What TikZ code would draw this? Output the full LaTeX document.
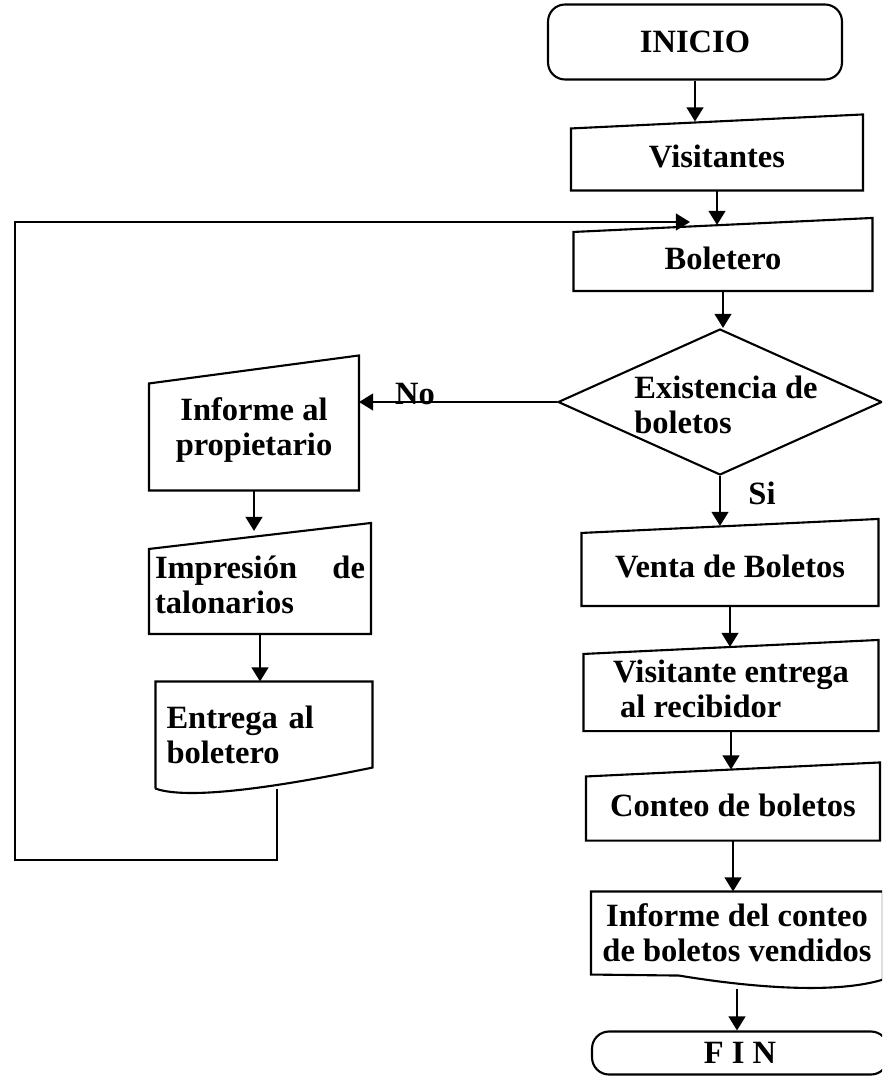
\documentclass[tikz,border=0pt]{standalone}
\usepackage{fontspec}
\setmainfont{Liberation Serif}
\usetikzlibrary{shapes.geometric, arrows.meta, calc}

% box with a sloped top edge
\newcommand{\slantbox}[2]{%
  \draw (#1.south west) -- (#1.south east) -- ($(#1.north east)+(0,-#2)$)
        -- ($(#1.north west)+(0,#2)$) -- cycle;}

\tikzset{
  txt/.style={font=\bfseries\fontsize{18.5}{20}\selectfont, inner sep=0pt},
  term/.style={txt, draw, rounded corners=0.34cm},
  arr/.style={-{Triangle[length=8pt, width=9.5pt]}},
}

\begin{document}
\begin{tikzpicture}[x=0.02cm, y=-0.02cm, line width=1.2pt]
		\clip (0,0) rectangle (882,1081);
		
		% main column
		\node (inicio) at (695,42) [term, minimum width=5.88cm, minimum height=1.5cm] {INICIO};
		\node (vis) at (717,156) [txt, minimum width=5.8cm, minimum height=1.34cm] {Visitantes};
		\node (bol) at (723,258) [txt, minimum width=5.94cm, minimum height=1.28cm] {Boletero};
		\node (dia) at (720,402) [draw, diamond, inner sep=0pt, minimum width=6.48cm, minimum height=2.92cm] {};
		\node (diatxt) at (726,405) [txt, align=left] {Existencia de\\boletos};
		\node (venta) at (730,566) [txt, minimum width=5.9cm, minimum height=1.56cm] {Venta de Boletos};
		\node (recib) at (731,689) [txt, align=left, minimum width=5.86cm, minimum height=1.64cm] {Visitante entrega\\\hspace{4pt}al recibidor};
		\node (conteo) at (733,805) [txt, minimum width=5.84cm, minimum height=1.38cm] {Conteo de boletos};
		\node (infc) at (737,933) [txt, align=center, minimum width=5.8cm, minimum height=1.62cm] {Informe del conteo\\de boletos vendidos};
		\node (fin) at (740,1053) [term, minimum width=5.92cm, minimum height=0.86cm] {F I N};
		
		\slantbox{vis}{7}
		\slantbox{bol}{7}
		\slantbox{venta}{7}
		\slantbox{recib}{7}
		\slantbox{conteo}{7}
		\draw (infc.south west) -- (infc.north west) -- (infc.north east) -- ($(infc.south east)+(0,5)$)
			.. controls ($(infc.south east)+(-52,21)$) and ($(infc.south west)+(148,11)$) .. ($(infc.south west)+(88,1)$) -- cycle;
		
		% side column
		\node (prop) at (254,430) [txt, align=center, minimum width=4.16cm, minimum height=2.38cm] {Informe al\\propietario};
		\node (impr) at (260,585) [txt, align=left, text width=4.2cm, minimum height=1.92cm] {Impresión\hfill de\\talonarios};
		\node (entr) at (264,735) [txt, align=left, text width=3.9cm, minimum height=2.1cm] {Entrega al\\boletero};
		
		\slantbox{prop}{14}
		\draw ($(impr.south west)+(-5,0)$) -- ($(impr.south east)+(5,0)$) -- ($(impr.north east)+(5,-13)$)
			-- ($(impr.north west)+(-5,13)$) -- cycle;
		\draw ($(entr.south west)+(-10,0)$) -- ($(entr.north west)+(-10,0)$) -- ($(entr.north east)+(10,0)$) -- ($(entr.south east)+(10,-21)$)
			.. controls ($(entr.south east)+(-82,-2)$) and ($(entr.south west)+(23,12)$) .. ($(entr.south west)+(-10,0)$);
		
		\node (no) at (415,394) [txt] {No};
		\node (si) at (762,493) [txt] {Si};
		
		\draw [arr] (inicio.south) -- (inicio.south |- vis.north);
		\draw [arr] (vis.south) -- (vis.south |- bol.north);
		\draw [arr] (bol.south) -- (bol.south |- dia.north);
		\draw [arr] (dia.south) -- (dia.south |- venta.north);
		\draw [arr] (venta.south) -- (venta.south |- recib.north);
		\draw [arr] (recib.south) -- (recib.south |- conteo.north);
		\draw [arr] (conteo.south) -- (conteo.south |- infc.north);
		\draw [arr] ($(infc.south)+(0,14)$) -- (infc.south |- fin.north);
		
		\draw [arr] (dia.west) -- ($(dia.west -| prop.east)$);
		\draw [arr] (prop.south) -- ($(prop.south |- impr.north)+(0,-5)$);
		\draw [arr] (impr.south) -- (impr.south |- entr.north);
		
		% back to the ticket seller
		\coordinate (lpA) at (277,860);
		\coordinate (lpB) at (15,860);
		\coordinate (lpC) at (15,222);
		\coordinate (lpD) at (690,222);
		\draw [arr] (entr.south -| lpA) -- (lpA) -- (lpB) -- (lpC) -- (lpD);
\end{tikzpicture}
\end{document}
